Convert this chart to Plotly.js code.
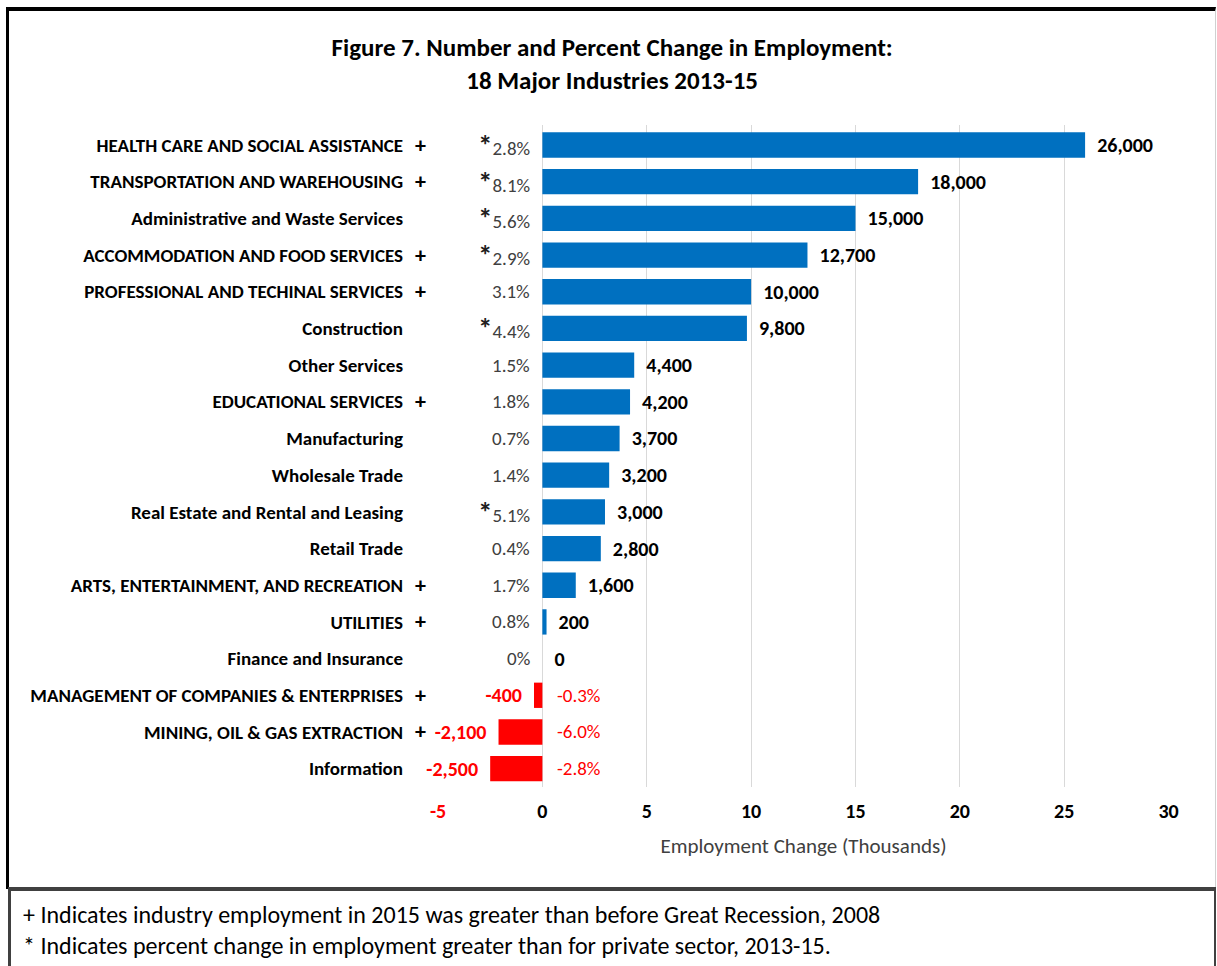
<!DOCTYPE html>
<html>
<head>
<meta charset="utf-8">
<script src="https://cdn.plot.ly/plotly-3.0.1.min.js"></script>
<style>
  body { margin: 0; background: #fff; }
  #wrap { position: relative; width: 1217px; height: 966px; overflow: hidden; }
  #chart { position: absolute; left: 0; top: 0; width: 1217px; height: 966px; }
  .box { position: absolute; pointer-events: none; box-sizing: border-box; }
  #box_top { left: 6px; top: 7px; width: 1210px; height: 882px;
             border-left: 3px solid #000; border-top: 4px solid #000; border-right: 1px solid #d0d0d0; }
  #box_note { left: 8px; top: 887px; width: 1208px; height: 100px;
              border-left: 3px solid #404040; border-top: 4px solid #404040; border-right: 2px solid #404040; }
</style>
</head>
<body>
<div id="wrap">
  <div id="chart"></div>
  <div class="box" id="box_top"></div>
  <div class="box" id="box_note"></div>
</div>
<script>
// industries, top to bottom
var industries = ["HEALTH CARE AND SOCIAL ASSISTANCE", "TRANSPORTATION AND WAREHOUSING",
  "Administrative and Waste Services", "ACCOMMODATION AND FOOD SERVICES",
  "PROFESSIONAL AND TECHINAL SERVICES", "Construction", "Other Services",
  "EDUCATIONAL SERVICES", "Manufacturing", "Wholesale Trade",
  "Real Estate and Rental and Leasing", "Retail Trade",
  "ARTS, ENTERTAINMENT, AND RECREATION", "UTILITIES", "Finance and Insurance",
  "MANAGEMENT OF COMPANIES & ENTERPRISES", "MINING, OIL & GAS EXTRACTION", "Information"];

// employment change, thousands
var change = [26, 18, 15, 12.7, 10, 9.8, 4.4, 4.2, 3.7, 3.2, 3.0, 2.8, 1.6, 0.2, 0, -0.4, -2.1, -2.5];
// percent change 2013-15
var pctChange = [2.8, 8.1, 5.6, 2.9, 3.1, 4.4, 1.5, 1.8, 0.7, 1.4, 5.1, 0.4, 1.7, 0.8, 0, -0.3, -6.0, -2.8];
// * = percent change above private sector
var star = [1, 1, 1, 1, 0, 1, 0, 0, 0, 0, 1, 0, 0, 0, 0, 0, 0, 0];
// + = 2015 employment above pre-recession 2008
var plus = [1, 1, 0, 1, 1, 0, 0, 1, 0, 0, 0, 0, 1, 1, 0, 1, 1, 0];

var tickVals = [-5, 0, 5, 10, 15, 20, 25, 30];

var FONT = "Carlito, Calibri, 'Liberation Sans Narrow', 'Open Sans', sans-serif";
var BLUE = "#0070C0", RED = "#FF0000";

var barColors = change.map(function (v) { return v < 0 ? RED : BLUE; });
var txtColors = change.map(function (v) { return v < 0 ? RED : "#000"; });
var valueText = change.map(function (v) {
  var s = Math.round(v * 1000).toLocaleString("en-US");
  return v < 0 ? s + "\u00a0\u00a0" : "\u00a0\u00a0" + s;
});

var trace = {
  type: "bar",
  orientation: "h",
  y: industries,
  x: change,
  marker: { color: barColors },
  text: valueText,
  textposition: "outside",
  cliponaxis: false,
  textfont: { family: FONT, size: 20, color: txtColors, weight: "bold" },
  hoverinfo: "x+y"
};

var annotations = [];
industries.forEach(function (name, i) {
  var p = pctChange[i];
  var pTxt = (p === 0 ? "0" : p.toFixed(1)) + "%";
  if (star[i]) pTxt = "<b style='font-size:29px;color:#202020'>*</b>" + pTxt;
  var neg = change[i] < 0;
  annotations.push({
    xref: "x", yref: "y", x: neg ? 0.6 : -0.5, y: name,
    xanchor: neg ? "left" : "right", yanchor: "middle",
    text: pTxt, showarrow: false,
    font: { family: FONT, size: 19, color: neg ? RED : "#404040" }
  });
  if (plus[i]) {
    annotations.push({
      xref: "paper", yref: "y", x: -0.0235, y: name,
      xanchor: "center", yanchor: "middle",
      text: "+", showarrow: false,
      font: { family: FONT, size: 22, color: "#000", weight: "bold" }
    });
  }
});

annotations.push({
  xref: "paper", yref: "paper", x: -0.571, y: -0.193, xanchor: "left", yanchor: "middle",
  text: "+ Indicates industry employment in 2015 was greater than before Great Recession, 2008",
  showarrow: false, font: { family: FONT, size: 24, color: "#000" }
});
annotations.push({
  xref: "paper", yref: "paper", x: -0.571, y: -0.239, xanchor: "left", yanchor: "middle",
  text: "* Indicates percent change in employment greater than for private sector, 2013-15.",
  showarrow: false, font: { family: FONT, size: 24, color: "#000" }
});

var layout = {
  width: 1217,
  height: 966,
  paper_bgcolor: "#fff",
  plot_bgcolor: "#fff",
  margin: { l: 438, r: 48, t: 125, b: 179 },
  showlegend: false,
  bargap: 0.31,
  title: {
    text: "Figure 7. Number and Percent Change in Employment:<br>18 Major Industries 2013-15",
    font: { family: FONT, size: 25, color: "#000", weight: "bold" },
    x: 0.503, xanchor: "center", xref: "container",
    y: 0.942, yanchor: "middle", yref: "container"
  },
  xaxis: {
    range: [-5, 30.02],
    tickvals: tickVals,
    ticktext: tickVals.map(function (t) {
      return t < 0 ? "<span style='color:" + RED + "'>" + t + "</span>" : String(t);
    }),
    tickfont: { family: FONT, size: 20, color: "#000", weight: "bold" },
    ticks: "",
    ticklabelstandoff: 10,
    showgrid: true,
    gridcolor: "#d9d9d9",
    gridwidth: 1,
    zeroline: false,
    showline: false,
    title: {
      text: "Employment Change (Thousands)",
      font: { family: FONT, size: 21, color: "#404040" },
      standoff: 16
    }
  },
  yaxis: {
    autorange: "reversed",
    type: "category",
    tickfont: { family: FONT, size: 19, color: "#000", weight: "bold" },
    ticks: "",
    ticklabelstandoff: 34,
    showgrid: false,
    zeroline: false,
    showline: false
  },
  annotations: annotations
};

Plotly.newPlot("chart", [trace], layout, { displayModeBar: false, staticPlot: true });
</script>
</body>
</html>
